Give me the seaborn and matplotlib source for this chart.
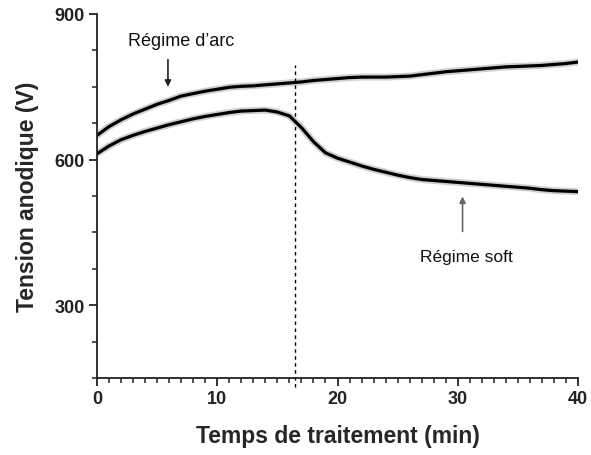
import matplotlib
matplotlib.use("Agg")
import matplotlib.pyplot as plt
import seaborn as sns
import pandas as pd
from matplotlib.ticker import MultipleLocator

# ---- data ----
time_min = list(range(0, 41))
arc_voltage = [650, 668, 682, 694, 704, 714, 722, 731, 736, 741,
               745, 749, 751, 752, 754, 756, 758, 760, 763, 765,
               767, 769, 770, 770, 770, 771, 772, 775, 778, 781,
               783, 785, 787, 789, 791, 792, 793, 794, 796, 798, 801]
soft_voltage = [612, 628, 641, 650, 658, 665, 672, 678, 684, 689,
                693, 697, 700, 701, 702, 698, 690, 666, 637, 614,
                603, 595, 587, 580, 574, 568, 563, 559, 557, 555,
                553, 551, 549, 547, 545, 543, 541, 538, 536, 535, 534]
transition_time = 16.5
x_ticks = [0, 10, 20, 30, 40]
y_ticks = [300, 600, 900]

df_arc = pd.DataFrame({"t": time_min, "V": arc_voltage})
df_soft = pd.DataFrame({"t": time_min, "V": soft_voltage})

sns.set_style("ticks")
plt.rcParams["font.family"] = ["Liberation Sans", "DejaVu Sans"]

fig = plt.figure(figsize=(5.91, 4.56), dpi=100)
ax = fig.add_axes([97 / 591, 1 - 379 / 456, (578 - 97) / 591, (379 - 15) / 456])

for d in (df_arc, df_soft):
    sns.lineplot(data=d, x="t", y="V", ax=ax, color="#777777", lw=5, alpha=0.35)
    sns.lineplot(data=d, x="t", y="V", ax=ax, color="black", lw=2.3)

ax.plot([transition_time, transition_time], [131, 795], color="black",
        lw=1.0, ls=(0, (2.5, 2.5)), clip_on=False)

ax.set_xlim(0, 40)
ax.set_ylim(150, 900)
ax.set_xticks(x_ticks)
ax.set_yticks(y_ticks)
ax.xaxis.set_minor_locator(MultipleLocator(1))
ax.yaxis.set_minor_locator(MultipleLocator(75))

for s in ("top", "right"):
    ax.spines[s].set_visible(False)
for s in ("left", "bottom"):
    ax.spines[s].set_linewidth(1.3)
    ax.spines[s].set_color("#222222")

ax.tick_params(axis="both", which="major", length=6, width=1.3, color="#222222",
               labelsize=13, pad=3)
ax.tick_params(axis="both", which="minor", length=3.5, width=1.1, color="#222222")
for lab in ax.get_xticklabels() + ax.get_yticklabels():
    lab.set_fontweight("bold")
    lab.set_color("#222222")

ax.set_xlabel("Temps de traitement (min)", fontsize=16.5, fontweight="bold", labelpad=12)
ax.set_ylabel("Tension anodique (V)", fontsize=16.5, fontweight="bold", labelpad=11)

ax.annotate("", xy=(5.9, 750), xytext=(5.9, 806),
            arrowprops=dict(arrowstyle="-|>", color="#222222", lw=1.2,
                            mutation_scale=9, shrinkA=0, shrinkB=0))
ax.text(7.0, 845, "Régime d\u2019arc", fontsize=13, ha="center", va="center",
        color="#111111")

ax.annotate("", xy=(30.4, 524), xytext=(30.4, 452),
            arrowprops=dict(arrowstyle="-|>", color="#666666", lw=1.2,
                            mutation_scale=9, shrinkA=0, shrinkB=0))
ax.text(30.7, 401, "Régime soft", fontsize=12.5, ha="center", va="center",
        color="#111111")

fig.savefig("out.png", dpi=100)
